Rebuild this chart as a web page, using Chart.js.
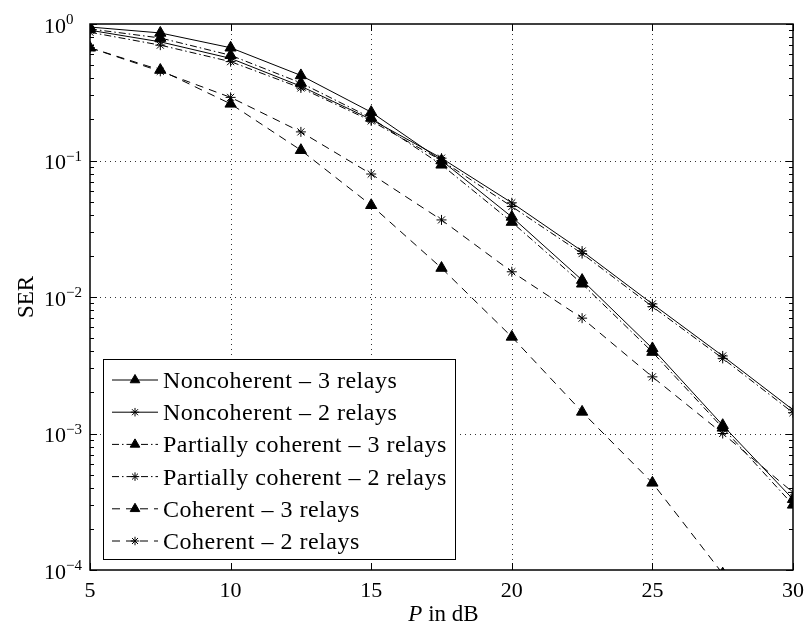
<!DOCTYPE html>
<html>
<head>
<meta charset="utf-8">
<script src="https://cdn.jsdelivr.net/npm/chart.js@4"></script>
<style>
  html, body { margin: 0; padding: 0; background: #fff; }
  #wrap { width: 809px; height: 628px; position: relative; }
</style>
</head>
<body>
<div id="wrap"><canvas id="myChart" width="809" height="628"></canvas></div>
<script>
// data
const snr = [5, 7.5, 10, 12.5, 15, 17.5, 20, 22.5, 25, 27.5, 30];
const nonCoh3 = [0.95, 0.86, 0.67, 0.42, 0.226, 0.1, 0.0386, 0.0133, 0.0042, 0.00115, 0.00033];
const nonCoh2 = [0.9, 0.74, 0.56, 0.35, 0.2, 0.104, 0.049, 0.0217, 0.0089, 0.0037, 0.00149];
const partCoh3 = [0.92, 0.79, 0.59, 0.37, 0.205, 0.093, 0.0354, 0.0125, 0.00395, 0.0011, 0.0003];
const partCoh2 = [0.87, 0.70, 0.53, 0.34, 0.195, 0.1, 0.046, 0.0208, 0.0085, 0.00355, 0.00142];
const coh3 = [0.67, 0.46, 0.26, 0.119, 0.047, 0.0163, 0.0051, 0.00144, 0.000435, 0.000094, 0.000015];
const coh2 = [0.67, 0.45, 0.29, 0.162, 0.0796, 0.0367, 0.0153, 0.007, 0.0026, 0.001, 0.00037];

const labels = [
  'Noncoherent \u2013 3 relays',
  'Noncoherent \u2013 2 relays',
  'Partially coherent \u2013 3 relays',
  'Partially coherent \u2013 2 relays',
  'Coherent \u2013 3 relays',
  'Coherent \u2013 2 relays'
];
const xTicks = [5, 10, 15, 20, 25, 30];
const yDecades = [0, -1, -2, -3, -4];

const style = {
  font: "'Liberation Serif', 'Times New Roman', serif",
  solid: [],
  dashDot: [7, 3, 1.5, 3],
  dashed: [8, 6]
};

const mk = (label, vals, dash, marker) => ({
  label: label,
  data: snr.map((x, i) => ({ x: x, y: vals[i] })),
  borderColor: '#000',
  backgroundColor: '#000',
  borderWidth: 1,
  borderDash: dash,
  pointStyle: marker,
  pointRadius: marker === 'triangle' ? 6.5 : 5,
  pointBorderWidth: 1,
  pointBackgroundColor: '#000',
  pointBorderColor: '#000',
  fill: false,
  tension: 0
});

const datasets = [
  mk(labels[0], nonCoh3, style.solid, 'triangle'),
  mk(labels[1], nonCoh2, style.solid, 'star'),
  mk(labels[2], partCoh3, style.dashDot, 'triangle'),
  mk(labels[3], partCoh2, style.dashDot, 'star'),
  mk(labels[4], coh3, style.dashed, 'triangle'),
  mk(labels[5], coh2, style.dashed, 'star')
];

// grid, frame, ticks, labels and legend drawn in matlab style
const matlabLook = {
  id: 'matlabLook',
  beforeDatasetsDraw(chart) {
    const ctx = chart.ctx, a = chart.chartArea;
    const xs = chart.scales.x, ys = chart.scales.y;
    ctx.save();
    ctx.strokeStyle = '#333';
    ctx.lineWidth = 1;
    ctx.setLineDash([1, 4]);
    xTicks.slice(1, -1).forEach(t => {
      const px = Math.round(xs.getPixelForValue(t)) + 0.5;
      ctx.beginPath(); ctx.moveTo(px, a.top); ctx.lineTo(px, a.bottom); ctx.stroke();
    });
    yDecades.slice(1, -1).forEach(e => {
      const py = Math.round(ys.getPixelForValue(Math.pow(10, e))) + 0.5;
      ctx.beginPath(); ctx.moveTo(a.left, py); ctx.lineTo(a.right, py); ctx.stroke();
    });
    ctx.restore();
  },
  afterDraw(chart) {
    const ctx = chart.ctx, a = chart.chartArea;
    const xs = chart.scales.x, ys = chart.scales.y;
    ctx.save();
    ctx.setLineDash([]);
    ctx.strokeStyle = '#000';
    ctx.lineWidth = 1.5;
    ctx.strokeRect(a.left, a.top, a.right - a.left, a.bottom - a.top);

    // tick marks, inward
    ctx.lineWidth = 1;
    xTicks.forEach(t => {
      const px = Math.round(xs.getPixelForValue(t)) + 0.5;
      ctx.beginPath();
      ctx.moveTo(px, a.bottom); ctx.lineTo(px, a.bottom - 7);
      ctx.moveTo(px, a.top); ctx.lineTo(px, a.top + 7);
      ctx.stroke();
    });
    yDecades.forEach(e => {
      for (let m = 1; m <= 9; m++) {
        const v = m * Math.pow(10, e);
        if (v > 1.0001 || v < 0.99e-4) continue;
        const py = Math.round(ys.getPixelForValue(v)) + 0.5;
        const len = m === 1 ? 7 : 4;
        ctx.beginPath();
        ctx.moveTo(a.left, py); ctx.lineTo(a.left + len, py);
        ctx.moveTo(a.right, py); ctx.lineTo(a.right - len, py);
        ctx.stroke();
      }
    });

    // tick labels
    ctx.fillStyle = '#000';
    ctx.font = '22px ' + style.font;
    ctx.textAlign = 'center';
    ctx.textBaseline = 'alphabetic';
    xTicks.forEach(t => {
      ctx.fillText(String(t), xs.getPixelForValue(t), a.bottom + 27);
    });
    yDecades.forEach(e => {
      const py = ys.getPixelForValue(Math.pow(10, e));
      ctx.textAlign = 'left';
      ctx.font = '22px ' + style.font;
      ctx.fillText('10', 44, py + 8.5);
      ctx.font = '15px ' + style.font;
      ctx.fillText(e === 0 ? '0' : '\u2212' + (-e), 66, py);
    });

    // axis titles
    ctx.font = 'italic 23px ' + style.font;
    const wP = ctx.measureText('P').width;
    ctx.font = '23px ' + style.font;
    const wRest = ctx.measureText(' in dB').width;
    const cx = (a.left + a.right) / 2 + 2;
    const x0 = cx - (wP + wRest) / 2;
    ctx.textAlign = 'left';
    ctx.font = 'italic 23px ' + style.font;
    ctx.fillText('P', x0, 621);
    ctx.font = '23px ' + style.font;
    ctx.fillText(' in dB', x0 + wP, 621);

    ctx.save();
    ctx.translate(33, (a.top + a.bottom) / 2);
    ctx.rotate(-Math.PI / 2);
    ctx.textAlign = 'center';
    ctx.fillText('SER', 0, 0);
    ctx.restore();

    // legend box
    const lx = 103.5, ly = 359.5, lw = 352, lh = 200;
    ctx.fillStyle = '#fff';
    ctx.fillRect(lx, ly, lw, lh);
    ctx.strokeStyle = '#000';
    ctx.lineWidth = 1;
    ctx.strokeRect(lx, ly, lw, lh);
    chart.data.datasets.forEach((ds, i) => {
      const ry = 380 + i * 32.2;
      ctx.save();
      ctx.strokeStyle = '#000';
      ctx.lineWidth = 1;
      ctx.setLineDash(ds.borderDash);
      ctx.beginPath(); ctx.moveTo(112, ry); ctx.lineTo(158, ry); ctx.stroke();
      ctx.setLineDash([]);
      Chart.helpers.drawPoint(ctx, {
        pointStyle: ds.pointStyle, radius: ds.pointRadius * 0.85, rotation: 0,
        borderWidth: 1
      }, 135, ry);
      ctx.fillStyle = '#000';
      if (ds.pointStyle === 'triangle') ctx.fill();
      ctx.restore();
      ctx.save();
      ctx.fillStyle = '#000';
      ctx.font = '24px ' + style.font;
      ctx.letterSpacing = '0.5px';
      ctx.textAlign = 'left';
      ctx.fillText(ds.label, 163, ry + 8);
      ctx.restore();
    });
    ctx.restore();
  }
};

const config = {
  type: 'line',
  data: { datasets },
  options: {
    responsive: false,
    animation: false,
    layout: { padding: { left: 90, right: 16, top: 24, bottom: 58 } },
    scales: {
      x: { type: 'linear', min: 5, max: 30, display: false },
      y: { type: 'logarithmic', min: 1e-4, max: 1, display: false }
    },
    plugins: {
      legend: { display: false },
      tooltip: { enabled: false }
    }
  },
  plugins: [matlabLook]
};

var myChart = new Chart(document.getElementById('myChart'), config);
</script>
</body>
</html>
